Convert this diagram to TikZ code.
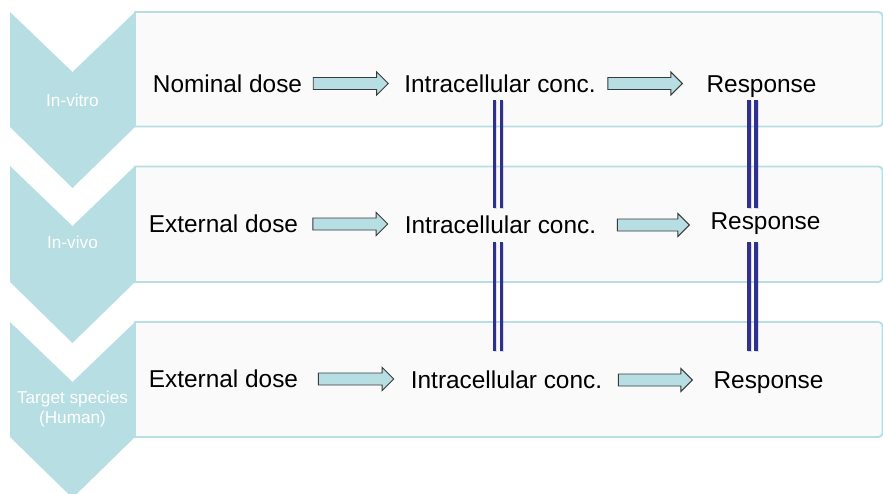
\documentclass[tikz,border=0pt]{standalone}
\usepackage{fontspec}
\setmainfont{Liberation Sans}
\usetikzlibrary{calc}

\definecolor{paleteal}{HTML}{B7DEE3}
\definecolor{panelgrey}{HTML}{FAFAFA}
\definecolor{arrowline}{HTML}{3A3A3A}
\definecolor{linknavy}{HTML}{2E3192}

% block arrow drawn between two named nodes, with gaps after the source and before the target
\newcommand\flowarrow[4]{%
  \coordinate (fa) at ($(#1.east)+(#3pt,0pt)$);
  \coordinate (fb) at ($(#2.west |- #1.east)+(-#4pt,0pt)$);
  \path[flow] ($(fa)+(0pt,6pt)$) -- ($(fb)+(-11.5pt,6pt)$) -- ($(fb)+(-11.5pt,11.5pt)$)
    -- (fb) -- ($(fb)+(-11.5pt,-11.5pt)$) -- ($(fb)+(-11.5pt,-6pt)$)
    -- ($(fa)+(0pt,-6pt)$) -- cycle;}

% pair of vertical rules joining two named nodes in a given column
\newcommand\linkpair[5]{%
  \foreach \dx in {-3.4,3.4} {
    \draw[linkshade] ($(#1.south -| #3)+(\dx pt+0.8pt,#4pt-0.8pt)$) -- ($(#2.north -| #3)+(\dx pt+0.8pt,#5pt-0.8pt)$);
    \draw[link] ($(#1.south -| #3)+(\dx pt,#4pt)$) -- ($(#2.north -| #3)+(\dx pt,#5pt)$);
  }}

\begin{document}
\begin{tikzpicture}[x=1pt,y=-1pt,
  band/.style={draw=paleteal, line width=1.8pt, fill=panelgrey},
  chevron/.style={fill=paleteal},
  tag/.style={text=white, font=\fontsize{17.2}{19.5}\selectfont, align=center, inner sep=0pt},
  term/.style={font=\fontsize{24.4}{28}\selectfont, inner sep=0pt, text height=17.5pt, text depth=0pt},
  flow/.style={draw=arrowline, fill=paleteal, line width=0.9pt, line join=miter},
  link/.style={draw=linknavy, line width=3.4pt},
  linkshade/.style={draw=black, opacity=0.12, line width=3.6pt}
]
\useasboundingbox (0,0) rectangle (883,493);
\clip (0,0) rectangle (883,493);

% stage panels
\path[band] (135,12) [rounded corners=4pt] -- (882.5,12) -- (882.5,126.5) [sharp corners] -- (135,126.5) -- cycle;
\path[band] (135,166.5) [rounded corners=4pt] -- (882.5,166.5) -- (882.5,282) [sharp corners] -- (135,282) -- cycle;
\path[band] (135,322) [rounded corners=4pt] -- (882.5,322) -- (882.5,437) [sharp corners] -- (135,437) -- cycle;

% stage chevrons
\fill[chevron] (10,12) -- (72.5,72) -- (135,12) -- (135,127) -- (72.5,188) -- (10,127) -- cycle;
\fill[chevron] (10,166) -- (72.5,226) -- (135,166) -- (135,282) -- (72.5,343) -- (10,282) -- cycle;
\fill[chevron] (10,322) -- (72.5,382) -- (135,322) -- (135,437) -- (72.5,498) -- (10,437) -- cycle;

\node[tag] (s1) at (72.5,100) {In-vitro};
\node[tag] (s2) at (72.5,242) {In-vivo};
\node[tag] (s3) at (72.5,409) {Target species\\(Human)};

% quantities
\node[term] (nd)  at (227.5,83.5) {Nominal dose};
\node[term] (ic1) at (500,83.5)   {Intracellular conc.};
\node[term] (r1)  at (761.5,83.5) {Response};

\node[term] (ed2) at (223.5,224)  {External dose};
\node[term] (ic2) at (500.5,225)  {Intracellular conc.};
\node[term] (r2)  at (765.5,221)  {Response};

\node[term] (ed3) at (223.5,379)  {External dose};
\node[term] (ic3) at (506.5,380)  {Intracellular conc.};
\node[term] (r3)  at (768.5,380)  {Response};

% flow within each stage
\flowarrow{nd}{ic1}{11}{16}
\flowarrow{ic1}{r1}{12}{24}
\flowarrow{ed2}{ic2}{14.5}{17}
\flowarrow{ic2}{r2}{21}{21}
\flowarrow{ed3}{ic3}{20}{17}
\flowarrow{ic3}{r3}{16}{21}

% correspondences across stages
\coordinate (colL) at (497.9,0);
\coordinate (colR) at (752.5,0);
\linkpair{ic1}{ic2}{colL}{-7.75}{8.25}
\linkpair{ic2}{ic3}{colL}{-8.25}{20.25}
\linkpair{r1}{r2}{colR}{-7.75}{4.25}
\linkpair{r2}{r3}{colR}{-12.25}{20.25}
\end{tikzpicture}
\end{document}
